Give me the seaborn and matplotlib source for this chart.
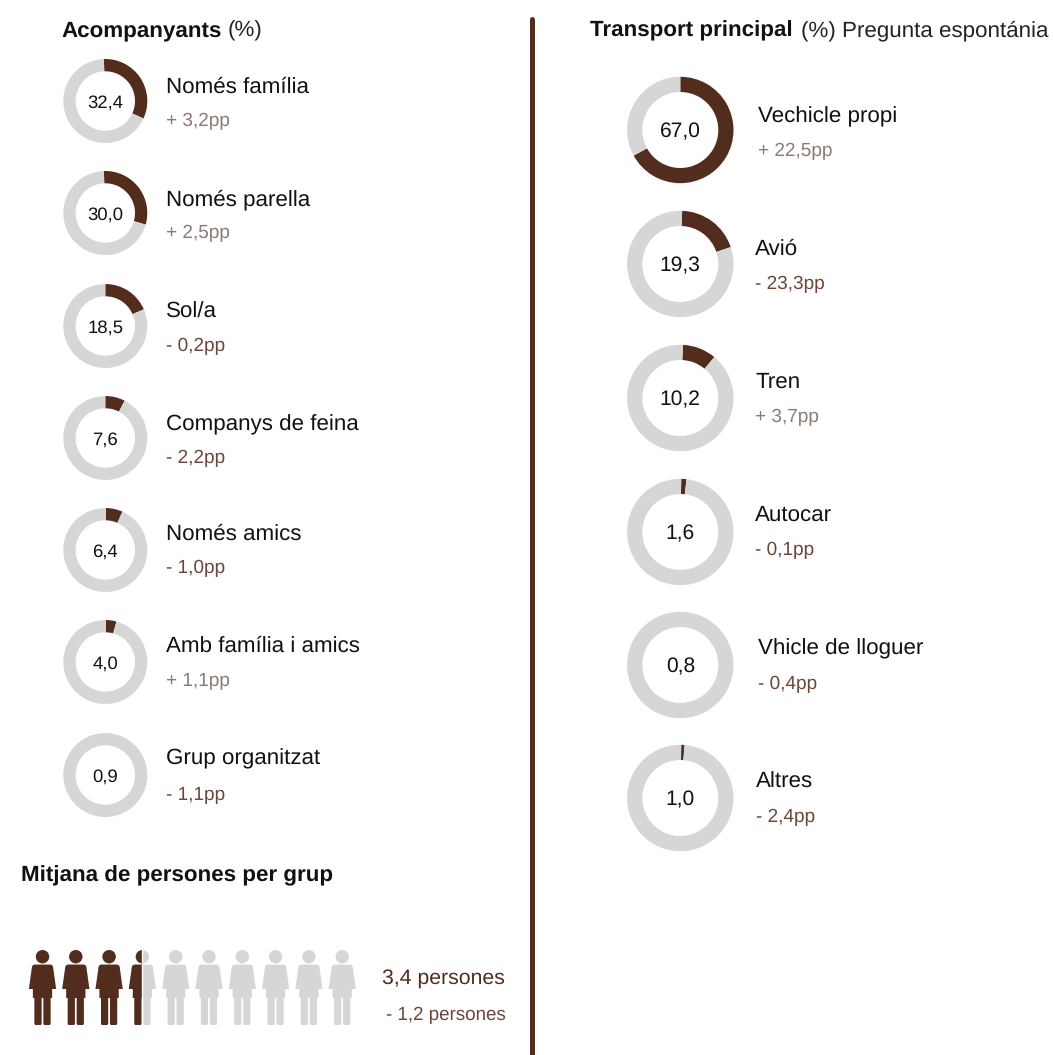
import matplotlib
matplotlib.use("Agg")
import matplotlib.pyplot as plt
from matplotlib.lines import Line2D
from matplotlib.path import Path
from matplotlib.transforms import Affine2D
import pandas as pd
import seaborn as sns

sns.set_theme(style="white")
plt.rcParams['font.family'] = ['Liberation Sans', 'DejaVu Sans']
plt.rcParams['text.hinting'] = 'no_hinting'
plt.rcParams['text.hinting_factor'] = 8

# ---- data ----
company_labels = ["Només família", "Només parella", "Sol/a", "Companys de feina",
                  "Només amics", "Amb família i amics", "Grup organitzat"]
company_values = ["32,4", "30,0", "18,5", "7,6", "6,4", "4,0", "0,9"]
company_arcs = [32.4, 30.0, 18.5, 7.6, 6.4, 4.0, 0.0]
company_deltas = ["+ 3,2pp", "+ 2,5pp", "- 0,2pp", "- 2,2pp", "- 1,0pp", "+ 1,1pp", "- 1,1pp"]

transport_labels = ["Vechicle propi", "Avió", "Tren", "Autocar", "Vhicle de lloguer", "Altres"]
transport_values = ["67,0", "19,3", "10,2", "1,6", "0,8", "1,0"]
transport_arcs = [67.0, 19.3, 10.2, 1.6, 0.0, 1.0]
transport_deltas = ["+ 22,5pp", "- 23,3pp", "+ 3,7pp", "- 0,1pp", "- 0,4pp", "- 2,4pp"]

people_total = 10
people_filled = 3.5
people_label = "3,4 persones"
people_delta = "- 1,2 persones"

# ---- layout ----
W, H = 1053, 1055
BROWN = "#522d1e"
GREY = "#d6d6d6"
UP = "#8b7b74"
DOWN = "#6a4738"
INK = "#111111"

company_cy = [101, 213, 326, 438, 550, 662, 775]
company_rot = [-2, -2, 0, 0, 1, 1, 0]
company_label_y = [93, 205, 318, 430, 540, 652, 764]
company_delta_y = [126, 238, 351, 463, 573, 686, 800]
transport_cy = [130, 264, 398, 532, 665, 798]
transport_rot = [0, 2, 3, 1, 0, 1]
transport_text_x = [758, 755, 755, 755, 758, 756]
transport_label_y = [122, 255, 388, 521, 654, 788]
transport_delta_y = [156, 289, 422, 555, 689, 822]

fig = plt.figure(figsize=(W / 100, H / 100), dpi=100, facecolor="white")


def text(x, y, s, size, color=INK, **kw):
    fig.text(x / W, 1 - y / H, s, fontsize=size * 0.72, color=color, va="baseline", **kw)


def donut(cx, cy, r, thick, share, rot, label, size):
    ax = fig.add_axes([(cx - r) / W, 1 - (cy + r) / H, 2 * r / W, 2 * r / H])
    ax.pie([share, 100 - share], colors=[BROWN, GREY], startangle=90 - rot, counterclock=False,
           radius=1, wedgeprops=dict(width=thick / r, linewidth=0))
    ax.set_xlim(-1, 1)
    ax.set_ylim(-1, 1)
    ax.set_aspect("auto")
    ax.axis("off")
    ax.text(0, 0, label, ha="center", va="center_baseline", fontsize=size * 0.72, color=INK)


def delta_color(s):
    return UP if s.startswith("+") else DOWN


text(61, 36, "Acompanyants", 22.4, weight="bold")
text(228, 36, "(%)", 22.4, color="#222222")
for lab, val, arc, rot, d, cy, ly, dy in zip(company_labels, company_values, company_arcs, company_rot,
                                             company_deltas, company_cy, company_label_y, company_delta_y):
    donut(105.3, cy, 42, 12.3, arc, rot, val, 18.5)
    text(166, ly, lab, 22.4)
    text(166, dy, d, 19, color=delta_color(d))

text(590, 36, "Transport principal", 22.4, weight="bold")
text(801, 36, "(%) Pregunta espontánia", 22.4, color="#222222")
for lab, val, arc, rot, d, cy, tx, ly, dy in zip(transport_labels, transport_values, transport_arcs,
                                                 transport_rot, transport_deltas, transport_cy,
                                                 transport_text_x, transport_label_y, transport_delta_y):
    donut(680.3, cy, 53.2, 15.2, arc, rot, val, 21)
    text(tx, ly, lab, 22.4)
    text(tx, dy, d, 19, color=delta_color(d))

text(21, 881, "Mitjana de persones per grup", 22.4, weight="bold")
text(382, 985, people_label, 21.3, color=BROWN)
text(386, 1020, people_delta, 18.8, color=DOWN)

fig.add_artist(Line2D([532 / W, 532 / W], [1 - 19 / H, -0.01], color=BROWN, lw=3.6,
                      solid_capstyle="round"))

# ---- pictogram: stacked seaborn bars clipped to a row of person outlines ----
SLOT = 33.3
X0, Y0, Y1 = 42.5 - SLOT / 2, 945, 1030
ax = fig.add_axes([X0 / W, 1 - Y1 / H, SLOT * people_total / W, (Y1 - Y0) / H])
people = pd.DataFrame({"row": ["p"], "total": [people_total], "filled": [people_filled]})
sns.barplot(data=people, y="row", x="total", color=GREY, width=1, saturation=1, ax=ax, orient="h")
sns.barplot(data=people, y="row", x="filled", color=BROWN, width=1, saturation=1, ax=ax, orient="h")
ax.set_xlim(0, people_total)
ax.axis("off")

OUTLINE = [(-10.2, 964.6), (-13.6, 989), (-9.6, 989), (-9.6, 998), (-8.1, 998),
           (-8.1, 1025), (-0.9, 1025), (-0.9, 998), (0.9, 998), (0.9, 1025),
           (8.1, 1025), (8.1, 998), (9.6, 998), (9.6, 989), (13.6, 989), (10.2, 964.6)]
ROUND = {0: 2.5, 15: 2.5, 5: 1.5, 6: 1.5, 9: 1.5, 10: 1.5}


def person_path(cx):
    tx = lambda x, y: ((x + cx - X0) / (SLOT * people_total), 1 - (y - Y0) / (Y1 - Y0))
    verts, codes = [], []
    n = len(OUTLINE)
    for i, (x, y) in enumerate(OUTLINE):
        r = ROUND.get(i, 0)
        if r:
            px, py = OUTLINE[i - 1]
            nx, ny = OUTLINE[(i + 1) % n]
            a = ((px - x) ** 2 + (py - y) ** 2) ** 0.5
            b = ((nx - x) ** 2 + (ny - y) ** 2) ** 0.5
            p1 = (x + (px - x) * r / a, y + (py - y) * r / a)
            p2 = (x + (nx - x) * r / b, y + (ny - y) * r / b)
            verts += [tx(*p1), tx(x, y), tx(*p2)]
            codes += [Path.MOVETO if i == 0 else Path.LINETO, Path.CURVE3, Path.CURVE3]
        else:
            verts.append(tx(x, y))
            codes.append(Path.MOVETO if i == 0 else Path.LINETO)
    verts.append(verts[0])
    codes.append(Path.CLOSEPOLY)
    body = Path(verts, codes)
    sx, sy = SLOT * people_total, Y1 - Y0
    head = Path.unit_circle().transformed(
        Affine2D().scale(6.7 / sx, 6.7 / sy).translate(*tx(0, 956.7)))
    return body, head


paths = []
for i in range(people_total):
    paths.extend(person_path(SLOT * i + 42.5))
clip = Path.make_compound_path(*paths)
for bar in ax.patches:
    bar.set_clip_path(clip, transform=ax.transAxes)

fig.savefig("out.png", dpi=100, facecolor="white")
